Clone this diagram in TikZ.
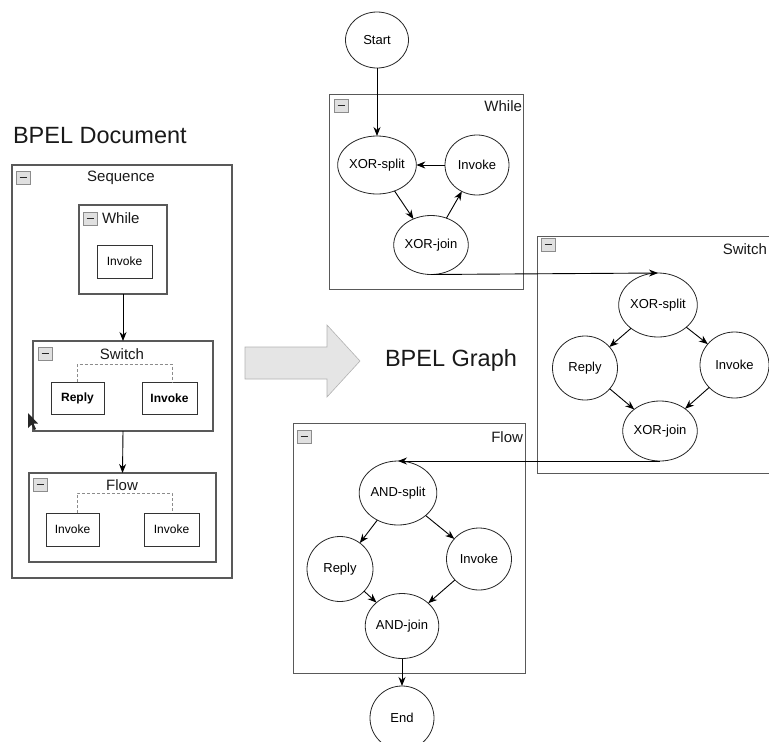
\documentclass[tikz,border=0pt]{standalone}
\usepackage{fontspec}
\setmainfont{Liberation Sans}
\usetikzlibrary{arrows.meta,shapes.geometric}
\newcommand{\minusbox}[2]{%
  \draw[draw=black!45, fill=black!12, line width=0.7pt] (#1,#2) rectangle ++(14,13);
  \draw[line width=1.4pt, black!85] (#1+3.5,#2+6.5) -- ++(7,0);}
\begin{document}
\begin{tikzpicture}[x=1pt,y=-1pt,
  every node/.style={inner sep=0pt, outer sep=0pt},
  frame/.style={draw=black!65, line width=1.1pt},
  actbox/.style={draw=black!80, line width=1pt, font=\fontsize{12}{14}\selectfont},
  bnode/.style={ellipse, draw=black!85, line width=0.8pt, minimum width=64pt, minimum height=60pt, font=\fontsize{13}{15}\selectfont},
  flowarrow/.style={draw=black, line width=0.9pt, -{Stealth[length=9pt,width=7pt]}},
  dashline/.style={draw=black!45, dash pattern=on 3pt off 2pt, line width=0.8pt},
  title/.style={font=\fontsize{23.5}{26}\selectfont, text=black!90},
  lbl/.style={font=\fontsize{15}{17}\selectfont, text=black!90}
]
\useasboundingbox (0,0) rectangle (769,742);
\clip (0,0) rectangle (769,742);

% ---------- BPEL Document ----------
\node[title, anchor=west] (tdoc) at (13,136) {BPEL Document};
\node[frame, minimum width=220pt, minimum height=413pt] (seq) at (122,371.5) {};
\minusbox{16}{171}
\node[lbl] (tseq) at (121,178) {Sequence};

\node[frame, minimum width=88pt, minimum height=89pt] (lwhile) at (123,249.5) {};
\minusbox{83}{212}
\node[lbl, anchor=west] (twhile) at (102,218) {While};
\node[actbox, minimum width=55pt, minimum height=33pt] (linv) at (124.5,261.5) {Invoke};

\node[frame, minimum width=180pt, minimum height=90pt] (lswitch) at (123,386) {};
\minusbox{38}{347}
\node[lbl] (tswitch) at (122,354) {Switch};
\node[actbox, minimum width=53pt, minimum height=32pt, font=\fontsize{12}{14}\selectfont\bfseries] (lrep) at (77.5,398) {Reply};
\node[actbox, minimum width=55pt, minimum height=32pt, font=\fontsize{12}{14}\selectfont\bfseries] (lsinv) at (169.5,398) {Invoke};
\draw[dashline] (lrep.north) -- ++(0,-18) -| ([xshift=2.5pt]lsinv.north);

\node[frame, minimum width=187pt, minimum height=89pt] (lflow) at (122.5,517.5) {};
\minusbox{33}{478}
\node[lbl] (tflow) at (122,485) {Flow};
\node[actbox, minimum width=53pt, minimum height=33pt] (lfi1) at (72.5,529.5) {Invoke};
\node[actbox, minimum width=55pt, minimum height=33pt] (lfi2) at (171.5,529.5) {Invoke};
\draw[dashline] ([xshift=4.5pt]lfi1.north) -- ++(0,-20) -| ([xshift=0.5pt]lfi2.north);

\draw[flowarrow] (lwhile.south) -- (lswitch.north);
\draw[flowarrow] (lswitch.south) -- (lflow.north);

% mouse cursor
\fill[black!85] (28,413) -- (28,428) -- (31.5,424.5) -- (34,430) -- (36,429) -- (33.5,423.5) -- (38,423.5) -- cycle;

% ---------- big arrow ----------
\draw[draw=black!30, fill=black!10, line width=0.6pt]
  (245,347) -- (327,347) -- (327,325) -- (360,361) -- (327,397) -- (327,379) -- (245,379) -- cycle;
\node[title, anchor=west] (tgraph) at (385,360) {BPEL Graph};

% ---------- While graph ----------
\node[bnode, minimum width=63pt, minimum height=56pt] (start) at (377,40) {Start};
\node[frame, line width=0.9pt, minimum width=194pt, minimum height=195pt] (gwhile) at (426,191.5) {};
\minusbox{334}{99}
\node[lbl, anchor=east] (tgwhile) at (522,106) {While};
\node[bnode, minimum width=69pt, minimum height=58pt] (wxs) at (377,165) {XOR-split};
\node[bnode] (winv) at (477,165) {Invoke};
\node[bnode, minimum height=59pt] (wxj) at (431,245) {XOR-join};

% ---------- Switch graph ----------
\node[frame, line width=0.9pt, minimum width=263pt, minimum height=237pt] (gswitch) at (668.5,354.5) {};
\minusbox{541}{238}
\node[lbl, anchor=east] (tgswitch) at (767,249) {Switch};
\node[bnode, minimum width=66pt, minimum height=64pt] (sxs) at (658,305) {XOR-split};
\node[bnode, minimum width=65pt, minimum height=64pt] (srep) at (585,368) {Reply};
\node[bnode, minimum width=69pt, minimum height=66pt] (sinv) at (734.5,365) {Invoke};
\node[bnode] (sxj) at (660,431) {XOR-join};

% ---------- Flow graph ----------
\node[frame, line width=0.9pt, minimum width=232pt, minimum height=250pt] (gflow) at (409,548) {};
\minusbox{297}{430}
\node[lbl, anchor=east] (tgflow) at (523,437) {Flow};
\node[bnode, minimum width=67pt, minimum height=64pt] (fas) at (398,493) {AND-split};
\node[bnode, minimum width=66pt, minimum height=65pt] (frep) at (340,569) {Reply};
\node[bnode, minimum width=65pt, minimum height=62pt] (finv) at (479,559) {Invoke};
\node[bnode, minimum width=65pt, minimum height=65pt] (faj) at (402,626) {AND-join};
\node[bnode, minimum height=64pt] (fend) at (402,718) {End};

% ---------- connectors ----------
\draw[flowarrow] (start) -- (wxs);
\draw[flowarrow] (winv) -- (wxs);
\draw[flowarrow] (wxs) -- (wxj);
\draw[flowarrow] (wxj) -- (winv);
\draw[flowarrow] (wxj.south) -- (sxs.north);
\draw[flowarrow] (sxs) -- (srep);
\draw[flowarrow] (sxs) -- (sinv);
\draw[flowarrow] (srep) -- (sxj);
\draw[flowarrow] (sinv) -- (sxj);
\draw[flowarrow] (sxj.south) -- (fas.north);
\draw[flowarrow] (fas) -- (frep);
\draw[flowarrow] (fas) -- (finv);
\draw[flowarrow] (frep) -- (faj);
\draw[flowarrow] (finv) -- (faj);
\draw[flowarrow] (faj) -- (fend);
\end{tikzpicture}
\end{document}
